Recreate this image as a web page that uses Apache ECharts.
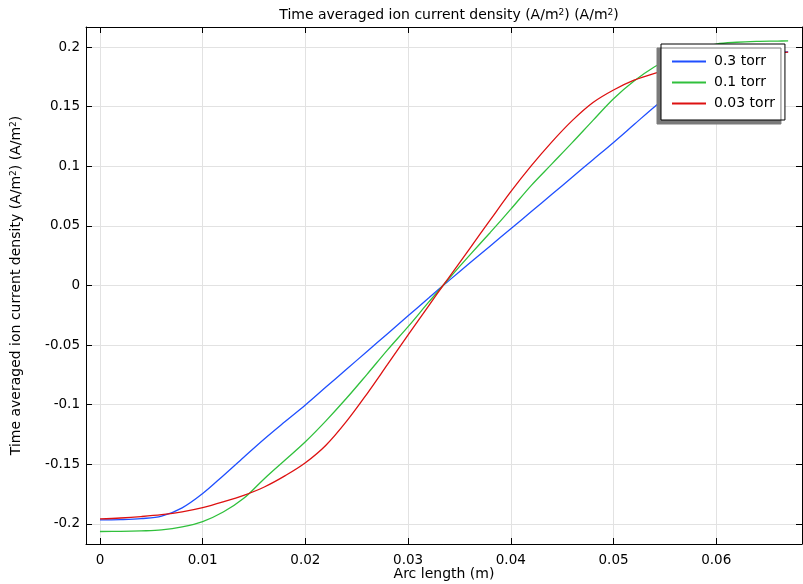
<!DOCTYPE html>
<html><head><meta charset="utf-8">
<script src="https://cdn.jsdelivr.net/npm/echarts@6/dist/echarts.min.js"></script>
<style>html,body{margin:0;padding:0;background:#fff}#c{width:803px;height:584px}</style>
</head><body><div id="c"></div>
<script>
const xValues = [0, 0.002, 0.004, 0.006, 0.008, 0.010, 0.012, 0.014, 0.016, 0.018, 0.020, 0.022, 0.024, 0.026, 0.028, 0.030, 0.032, 0.0334, 0.034, 0.036, 0.038, 0.040, 0.042, 0.044, 0.046, 0.048, 0.050, 0.052, 0.054, 0.056, 0.058, 0.060, 0.062, 0.064, 0.066, 0.067];
const torr03 = [-0.1966, -0.1963, -0.1955, -0.1935, -0.1865, -0.1745, -0.1595, -0.1440, -0.1287, -0.1143, -0.1002, -0.0852, -0.0703, -0.0553, -0.0404, -0.0254, -0.0105, 0, 0.0043, 0.0188, 0.0332, 0.0476, 0.0620, 0.0765, 0.0910, 0.1055, 0.1200, 0.1350, 0.1500, 0.1635, 0.1745, 0.1830, 0.1890, 0.1930, 0.1955, 0.1960];
const torr01 = [-0.2063, -0.2062, -0.2058, -0.2050, -0.2025, -0.1980, -0.1900, -0.1785, -0.1620, -0.1465, -0.1310, -0.1135, -0.0946, -0.0745, -0.0540, -0.0345, -0.0140, 0, 0.0060, 0.0255, 0.0445, 0.0640, 0.0840, 0.1020, 0.1200, 0.1385, 0.1567, 0.1715, 0.1835, 0.1925, 0.1985, 0.2025, 0.2040, 0.2047, 0.2050, 0.2052];
const torr003 = [-0.1958, -0.1950, -0.1938, -0.1922, -0.1898, -0.1863, -0.1815, -0.1760, -0.1690, -0.1597, -0.1487, -0.1340, -0.1140, -0.0908, -0.0662, -0.0415, -0.0170, 0, 0.0070, 0.0310, 0.0550, 0.0787, 0.1005, 0.1205, 0.1385, 0.1535, 0.1640, 0.1722, 0.1780, 0.1825, 0.1860, 0.1890, 0.1915, 0.1936, 0.1952, 0.1958];
const seriesNames = ['0.3 torr', '0.1 torr', '0.03 torr'];
const titleText = 'Time averaged ion current density (A/m{sup|2}) (A/m{sup|2})';
const xName = 'Arc length (m)';

const pair = ys => xValues.map((x, i) => [x, ys[i]]);
const font = 'DejaVu Sans';
const rich = { sup: { fontSize: 9, verticalAlign: 'top', padding: [0, 0, 6, 0], fontFamily: font, color: '#000' } };
const xMin = -0.00136, xMax = 0.06835, yMin = -0.2168, yMax = 0.2168;
const tickIn = { show: true, inside: true, length: 6, lineStyle: { color: '#000' } };
const axLine = { show: true, onZero: false, lineStyle: { color: '#000', width: 1 } };

const chart = echarts.init(document.getElementById('c'));
chart.setOption({
  animation: false,
  backgroundColor: '#fff',
  title: { text: titleText, left: 444, textAlign: 'center', top: 3,
    textStyle: { fontFamily: font, fontSize: 14, fontWeight: 'normal', color: '#000', rich: rich } },
  grid: { left: 86, right: 1, top: 27, bottom: 40, containLabel: false, outerBoundsMode: 'none' },
  legend: {
    orient: 'vertical', left: 661, top: 44, padding: [9, 10, 8, 11],
    icon: 'rect', itemWidth: 34, itemHeight: 2, itemGap: 4,
    backgroundColor: '#fff', borderColor: '#000', borderWidth: 1,
    shadowColor: '#7a7a7a', shadowBlur: 0, shadowOffsetX: -4, shadowOffsetY: 4,
    textStyle: { fontFamily: font, fontSize: 14, color: '#000', padding: [0, 0, 0, 3], lineHeight: 17 },
    data: seriesNames
  },
  xAxis: [
    { type: 'value', min: xMin, max: xMax, splitNumber: 7,
      name: xName, nameLocation: 'middle', nameGap: 23, nameMoveOverlap: false,
      nameTextStyle: { fontFamily: font, fontSize: 14, color: '#000' },
      axisLine: axLine,
      axisTick: tickIn,
      axisLabel: { fontFamily: font, fontSize: 13.5, color: '#000', margin: 9, showMinLabel: false, showMaxLabel: false },
      splitLine: { show: true, lineStyle: { color: '#e2e2e2', width: 1 } } },
    { type: 'value', position: 'top', min: xMin, max: xMax, splitNumber: 7,
      axisLine: axLine, axisTick: tickIn,
      axisLabel: { show: false }, splitLine: { show: false } }
  ],
  yAxis: [
    { type: 'value', min: yMin, max: yMax, splitNumber: 9,
      name: titleText, nameLocation: 'middle', nameGap: 62,
      nameTextStyle: { fontFamily: font, fontSize: 14, color: '#000', rich: rich },
      axisLine: axLine,
      axisTick: tickIn,
      axisLabel: { fontFamily: font, fontSize: 13.5, color: '#000', margin: 6, showMinLabel: false, showMaxLabel: false },
      splitLine: { show: true, lineStyle: { color: '#e2e2e2', width: 1 } } },
    { type: 'value', position: 'right', min: yMin, max: yMax, splitNumber: 9,
      axisLine: axLine, axisTick: tickIn,
      axisLabel: { show: false }, splitLine: { show: false } }
  ],
  series: [
    { name: seriesNames[0], type: 'line', data: pair(torr03), symbol: 'none', smooth: 0.35,
      lineStyle: { color: '#1f4fff', width: 1.3 }, itemStyle: { color: '#1f4fff' } },
    { name: seriesNames[1], type: 'line', data: pair(torr01), symbol: 'none', smooth: 0.35,
      lineStyle: { color: '#30c03c', width: 1.3 }, itemStyle: { color: '#30c03c' } },
    { name: seriesNames[2], type: 'line', data: pair(torr003), symbol: 'none', smooth: 0.35,
      lineStyle: { color: '#dd1111', width: 1.3 }, itemStyle: { color: '#dd1111' } }
  ]
});
</script></body></html>
